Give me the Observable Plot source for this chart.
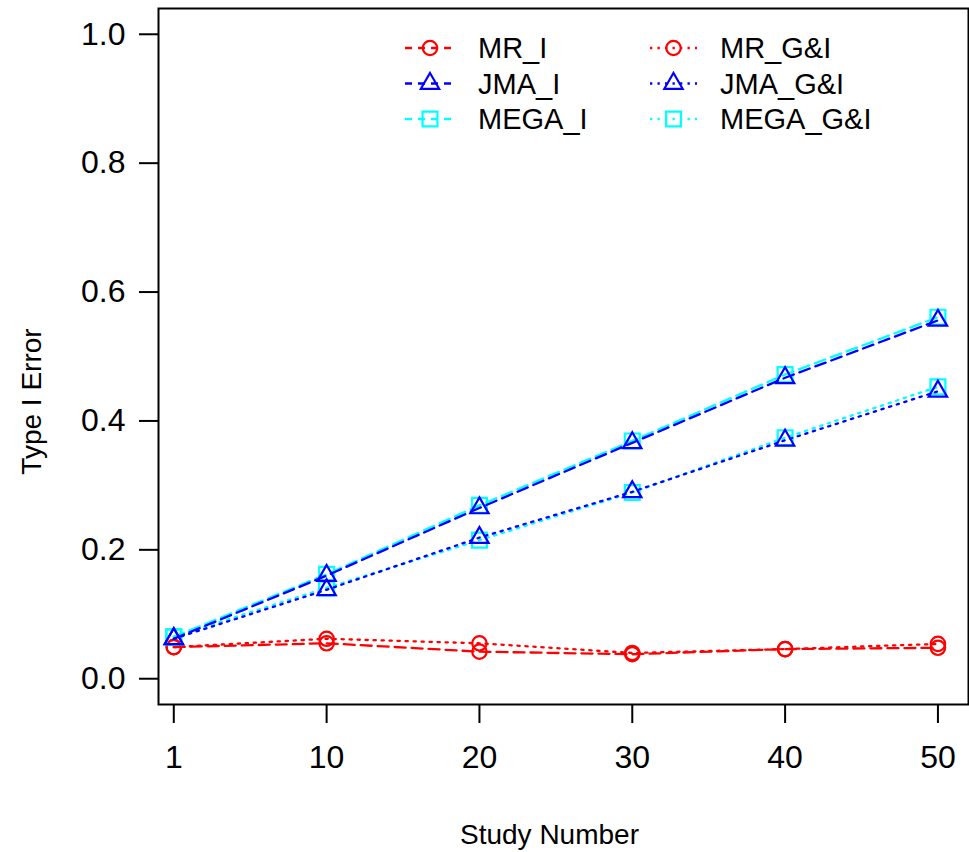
<!DOCTYPE html>
<html>
<head>
<meta charset="utf-8">
<script src="https://cdn.jsdelivr.net/npm/d3@7"></script>
<script src="https://cdn.jsdelivr.net/npm/@observablehq/plot@0.6"></script>
<style>
  html, body { margin: 0; padding: 0; background: #fff; }
  #wrap { position: relative; width: 969px; height: 852px; }
  #legend { position: absolute; left: 0; top: 0; pointer-events: none; }
</style>
</head>
<body>
<div id="wrap"></div>
<script>
// ---- data ----
const studyLabels = ["1", "10", "20", "30", "40", "50"];
const studyIndex = [1, 2, 3, 4, 5, 6];
const seriesNames = ["MR_I", "JMA_I", "MEGA_I", "MR_G&I", "JMA_G&I", "MEGA_G&I"];
const mrI    = [0.049, 0.055, 0.042, 0.038, 0.046, 0.048];
const jmaI   = [0.062, 0.160, 0.265, 0.366, 0.467, 0.556];
const megaI  = [0.065, 0.162, 0.269, 0.369, 0.472, 0.561];
const mrGI   = [0.049, 0.062, 0.055, 0.040, 0.046, 0.054];
const jmaGI  = [0.062, 0.138, 0.219, 0.290, 0.370, 0.446];
const megaGI = [0.065, 0.141, 0.215, 0.289, 0.374, 0.453];
const yTicks = [0, 0.2, 0.4, 0.6, 0.8, 1.0];

// ---- styles ----
const font = "'Liberation Sans', Arial, sans-serif";
const values = {"MR_I": mrI, "JMA_I": jmaI, "MEGA_I": megaI, "MR_G&I": mrGI, "JMA_G&I": jmaGI, "MEGA_G&I": megaGI};
const colorOf = {"MR": "#ff0000", "JMA": "#0000ff", "MEGA": "#00ffff"};
const symbolOf = {"MR": "circle", "JMA": "triangle", "MEGA": "square"};
const rOf = {"MR": 7.2, "JMA": 6.8, "MEGA": 8.4};
const dashed = "11,6", dotted = "2.3,5.7";
const styleOf = name => {
  const k = name.split("_")[0];
  return {color: colorOf[k], symbol: symbolOf[k], r: rOf[k], dash: name.endsWith("G&I") ? dotted : dashed};
};

const drawOrder = ["MR_I", "MR_G&I", "MEGA_I", "MEGA_G&I", "JMA_I", "JMA_G&I"];
const marks = [];
for (const name of drawOrder) {
  const s = styleOf(name);
  const rows = studyIndex.map((x, i) => ({x, y: values[name][i]}));
  marks.push(Plot.line(rows, {x: "x", y: "y", stroke: s.color, strokeWidth: 2.3, strokeDasharray: s.dash}));
  marks.push(Plot.dot(rows, {x: "x", y: "y", symbol: s.symbol, r: s.r, stroke: s.color, strokeWidth: 2.2, fill: "none"}));
}

const chart = Plot.plot({
  width: 969,
  height: 852,
  marginLeft: 158,
  marginRight: 1,
  marginTop: 8,
  marginBottom: 148,
  style: {fontFamily: font, fontSize: "28px", color: "#000", background: "#fff"},
  x: {domain: [0.9, 6.2]},
  y: {domain: [-0.04, 1.04]},
  marks: [
    Plot.axisX(studyIndex, {tickSize: 19, tickPadding: 22, strokeWidth: 2, fontSize: 32, tickFormat: i => studyLabels[i - 1], label: null}),
    Plot.axisY(yTicks, {tickSize: 19, tickPadding: 14, strokeWidth: 2, fontSize: 32, tickFormat: d => d.toFixed(1), label: null}),
    ...marks,
    Plot.frame({stroke: "#000", strokeWidth: 2}),
    Plot.text(["Type I Error"], {frameAnchor: "left", dx: -126, dy: 45, rotate: -90, textAnchor: "middle", lineAnchor: "middle", fontSize: 28, fill: "#000"}),
    Plot.text(["Study Number"], {frameAnchor: "bottom", dx: -14, dy: 131, textAnchor: "middle", lineAnchor: "middle", fontSize: 28, fill: "#000"})
  ]
});
const wrap = document.getElementById("wrap");
wrap.appendChild(chart);

// ---- legend overlay (inside plot area, no box) ----
const legendCols = [["MR_I", "JMA_I", "MEGA_I"], ["MR_G&I", "JMA_G&I", "MEGA_G&I"]];
const colX = [405, 650];
const rowY = [48, 83.5, 119];
const svg = d3.select(wrap).append("svg").attr("id", "legend").attr("width", 969).attr("height", 852);
legendCols.forEach((col, ci) => {
  col.forEach((name, ri) => {
    const s = styleOf(name);
    const x0 = colX[ci], y = rowY[ri];
    const segW = ci === 0 ? 50 : 47;
    svg.append("line").attr("x1", x0).attr("x2", x0 + segW).attr("y1", y).attr("y2", y)
      .attr("stroke", s.color).attr("stroke-width", 2.3).attr("stroke-dasharray", ci === 0 ? "7,6" : "2.3,5.2");
    const sym = {circle: d3.symbolCircle, triangle: d3.symbolTriangle, square: d3.symbolSquare}[s.symbol];
    svg.append("path").attr("transform", `translate(${x0 + segW / 2},${y})`)
      .attr("d", d3.symbol(sym, Math.PI * s.r * s.r)())
      .attr("fill", "none").attr("stroke", s.color).attr("stroke-width", 2.2);
    svg.append("text").attr("x", x0 + segW + 23).attr("y", y).attr("dy", "0.36em")
      .attr("font-family", font).attr("font-size", 29).attr("fill", "#000").text(name);
  });
});
</script>
</body>
</html>
